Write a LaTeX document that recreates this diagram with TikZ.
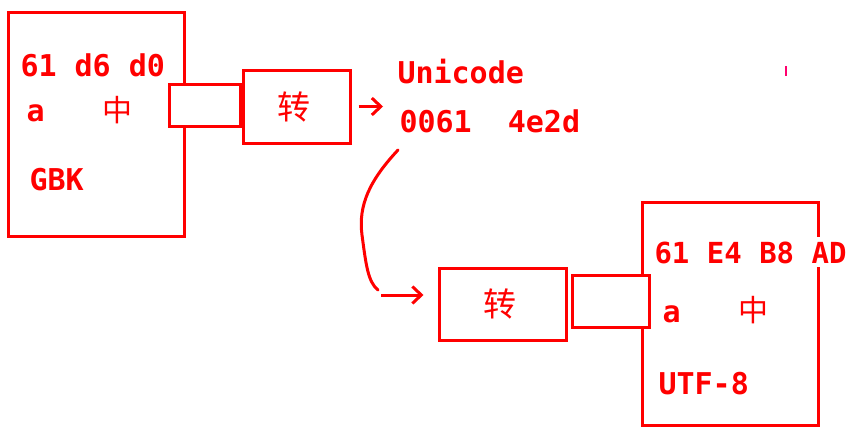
\documentclass[tikz,border=0pt]{standalone}
\usepackage{fontspec}
\setmonofont{DejaVu Sans Mono}
\newfontfamily\cjk{Noto Sans CJK SC}
\usepackage{tikz}
\usetikzlibrary{arrows.meta}
\tikzset{my_diagram/.style={x=1pt,y=1pt,line width=3pt,draw=red,red}}
\tikzset{my_box/.style={rectangle,draw=red,line width=3pt,inner sep=0pt}}
\tikzset{my_port/.style={my_box,fill=white}}
\tikzset{my_code/.style={anchor=base west,inner sep=0pt,text=red,font=\ttfamily\bfseries\fontsize{30}{36}\selectfont}}
\tikzset{my_han/.style={anchor=center,inner sep=0pt,text=red,font=\cjk\fontsize{30}{36}\selectfont}}
\tikzset{my_arrow/.style={-{Straight Barb[length=9pt,width=17pt,line width=3pt]},line width=3pt,red}}

\begin{document}
\begin{tikzpicture}[my_diagram]
    \useasboundingbox (0,0) rectangle (850,-439);
    %\draw[help lines] (0,0) grid (850,-439);
    \node[my_box, minimum width=176pt, minimum height=224pt] (gbk) at (96,-124) {};
    \node[my_port, minimum width=71pt, minimum height=42pt] (gbk_port) at (204.5,-105) {};
    \node[my_box, minimum width=107pt, minimum height=73pt] (conv_a) at (296.5,-106.5) {};
    \node[my_han, font=\cjk\fontsize{33}{36}\selectfont] (conv_a_text) at (294,-107) {转};

    \node[my_code] (gbk_bytes) at (19,-76) {61 d6 d0};
    \node[my_code] (gbk_a) at (25,-121) {a};
    \node[my_han] (gbk_zh) at (117,-110) {中};
    \node[my_code] (gbk_name) at (28,-190) {GBK};

    \node[my_code] (uni_name) at (396,-83) {Unicode};
    \node[my_code] (uni_code) at (398,-132) {0061\ \ 4e2d};

    \node[my_box, minimum width=176pt, minimum height=223pt] (utf) at (730,-313.5) {};
    \node[my_box, minimum width=127pt, minimum height=72pt] (conv_b) at (502.5,-304) {};
    \node[my_han, font=\cjk\fontsize{33}{36}\selectfont] (conv_b_text) at (500,-304) {转};
    \node[my_port, minimum width=77pt, minimum height=52pt] (utf_port) at (610.5,-301) {};

    \node[my_code, fill=white, inner ysep=4pt, font=\ttfamily\bfseries\fontsize{29}{36}\selectfont] (utf_bytes) at (653,-263) {61 E4 B8 AD};
    \node[my_code] (utf_a) at (661,-322) {a};
    \node[my_han] (utf_zh) at (753,-310) {中};
    \node[my_code] (utf_name) at (657,-394) {UTF-8};

    \coordinate (bend_start) at (398,-150);
    \coordinate (bend_end) at (378,-290);
    \coordinate (arrow_b) at (381,-295);

    \draw[my_arrow, shorten <=7pt, shorten >=15pt] (conv_a.east) -- (conv_a.east -| uni_code.west);
    \draw[line width=3pt, line cap=round] (bend_start)
        .. controls (370,-180) and (358,-205) .. (362,-235)
        .. controls (366,-265) and (368,-282) .. (bend_end);
    \draw[my_arrow, shorten >=14pt] (arrow_b) -- (arrow_b -| conv_b.west);

    \draw[line width=1.5pt, draw={rgb,255:red,255;green,0;blue,110}] (786,-66) -- (786,-76);
\end{tikzpicture}
\end{document}
